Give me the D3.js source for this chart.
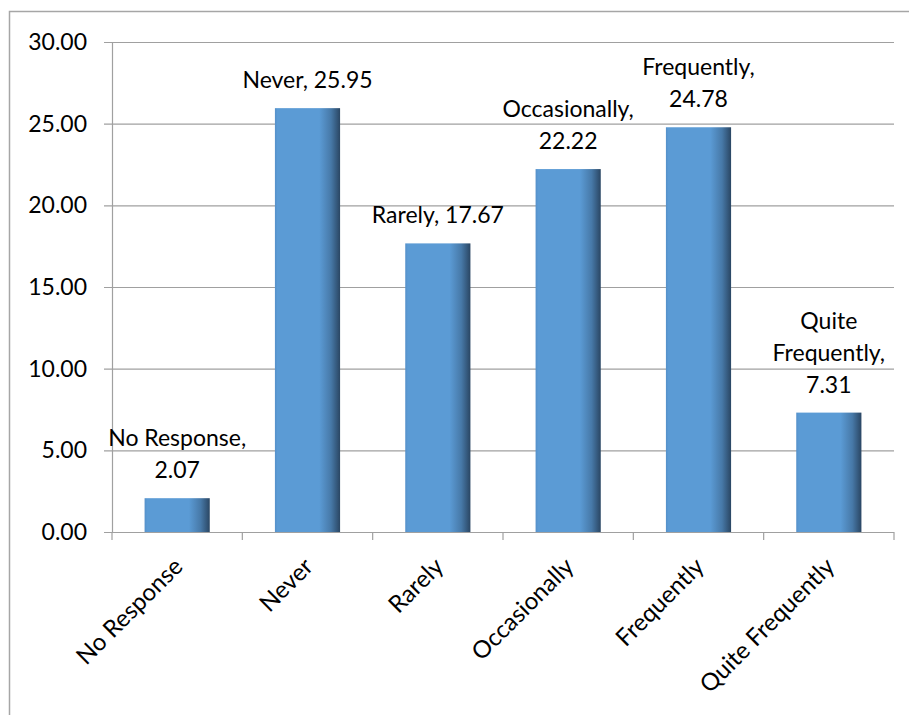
<!DOCTYPE html>
<html>
<head>
<meta charset="utf-8">
<script src="https://cdn.jsdelivr.net/npm/d3@7"></script>
<style>
  body { margin: 0; background: #fff; }
  svg text { font-family: Lato, "Open Sans", sans-serif; fill: #000; }
</style>
</head>
<body>
<svg id="chart" width="909" height="715"></svg>
<script>
// categories and values
const categories = ["No Response", "Never", "Rarely", "Occasionally", "Frequently", "Quite Frequently"];
const values = [2.07, 25.95, 17.67, 22.22, 24.78, 7.31];
const yTicks = [0, 5, 10, 15, 20, 25, 30];

const margin = {top: 42, right: 15, bottom: 183, left: 112};
const width = 909 - margin.left - margin.right;
const height = 715 - margin.top - margin.bottom;

const svg = d3.select("#chart");

// outer chart frame (right/bottom edges fall off the picture)
svg.append("rect")
    .attr("x", 9.5).attr("y", 11.5)
    .attr("width", 920).attr("height", 720)
    .attr("fill", "none")
    .attr("stroke", "#a6a6a6")
    .attr("stroke-width", 1.5);

// bar shading, lighter body with a dark right edge
const defs = svg.append("defs");
const grad = defs.append("linearGradient")
    .attr("id", "barGrad")
    .attr("x1", "0%").attr("x2", "100%").attr("y1", "0%").attr("y2", "0%");
grad.append("stop").attr("offset", "0%").attr("stop-color", "#5590c9");
grad.append("stop").attr("offset", "4%").attr("stop-color", "#5b9bd5");
grad.append("stop").attr("offset", "68%").attr("stop-color", "#5b9bd5");
grad.append("stop").attr("offset", "86%").attr("stop-color", "#4779a8");
grad.append("stop").attr("offset", "100%").attr("stop-color", "#2a4663");

const g = svg.append("g")
    .attr("transform", "translate(" + margin.left + "," + margin.top + ")");

const x = d3.scaleBand().domain(categories).range([0, width]).paddingInner(0.5).paddingOuter(0.25);
const y = d3.scaleLinear().domain([0, 30]).range([height, 0]);

// gridlines
g.append("g")
    .selectAll("line")
    .data(yTicks)
    .join("line")
    .attr("x1", -8).attr("x2", width)
    .attr("y1", d => y(d) + 0.5).attr("y2", d => y(d) + 0.5)
    .attr("stroke", "#a0a0a0")
    .attr("stroke-width", 1.2);

// y axis
const yAxis = g.append("g")
    .call(d3.axisLeft(y).tickValues(yTicks).tickFormat(d3.format(".2f")).tickSize(0).tickPadding(25));
yAxis.select(".domain").attr("stroke", "#a0a0a0").attr("stroke-width", 1.2);
yAxis.selectAll("text").style("font-size", "23px");

// x axis line and ticks between categories
const step = x.step();
const xAxis = g.append("g").attr("transform", "translate(0," + height + ")");
xAxis.append("line")
    .attr("x1", 0).attr("x2", width).attr("y1", 0.5).attr("y2", 0.5)
    .attr("stroke", "#a0a0a0").attr("stroke-width", 1.2);
xAxis.selectAll("line.tick")
    .data(d3.range(categories.length + 1))
    .join("line")
    .attr("class", "tick")
    .attr("x1", i => i * step).attr("x2", i => i * step)
    .attr("y1", 0).attr("y2", 8)
    .attr("stroke", "#a0a0a0").attr("stroke-width", 1.2);
xAxis.selectAll("text.cat")
    .data(categories)
    .join("text")
    .attr("class", "cat")
    .attr("text-anchor", "end")
    .attr("transform", d => "translate(" + (x(d) + x.bandwidth() / 2 - 5) + ",24) rotate(-45)")
    .attr("dy", "0.71em")
    .style("font-size", "24px")
    .text(d => d);

// bars
g.append("g")
    .selectAll("rect")
    .data(values)
    .join("rect")
    .attr("x", (d, i) => x(categories[i]))
    .attr("y", d => y(d))
    .attr("width", x.bandwidth())
    .attr("height", d => y(0) - y(d))
    .attr("fill", "url(#barGrad)");

// data labels, wrapped word by word like the original
const maxLabelWidth = 150;
const lineHeight = 32;
const labels = g.append("g")
    .selectAll("text")
    .data(values)
    .join("text")
    .attr("text-anchor", "middle")
    .style("font-size", "23px");

labels.each(function(d, i) {
    const t = d3.select(this);
    const words = (categories[i] + ", " + d.toFixed(2)).split(" ");
    const lines = [];
    let cur = [];
    const probe = t.append("tspan");
    words.forEach(w => {
        const trial = cur.concat([w]).join(" ");
        probe.text(trial);
        if (cur.length && probe.node().getComputedTextLength() > maxLabelWidth) {
            lines.push(cur.join(" "));
            cur = [w];
        } else {
            cur.push(w);
        }
    });
    lines.push(cur.join(" "));
    probe.remove();
    const cx = x(categories[i]) + x.bandwidth() / 2;
    const base = y(d) - 20 - (lines.length - 1) * lineHeight;
    lines.forEach((ln, k) => {
        t.append("tspan")
            .attr("x", cx)
            .attr("y", base + k * lineHeight)
            .text(ln);
    });
});
</script>
</body>
</html>
